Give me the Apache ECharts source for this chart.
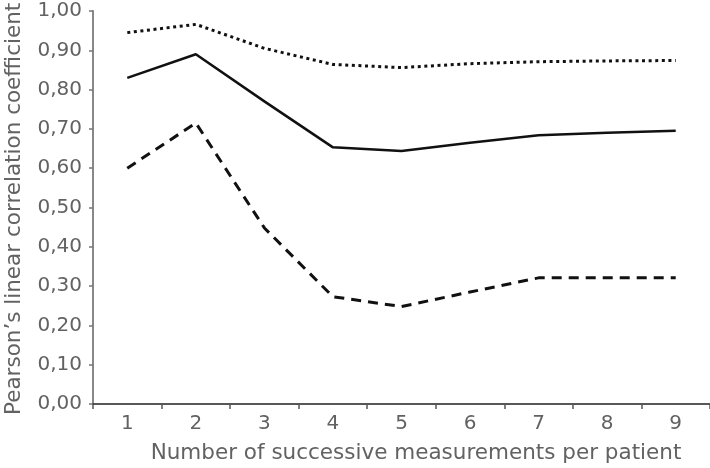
<!DOCTYPE html>
<html>
<head>
<meta charset="utf-8">
<script src="https://cdn.jsdelivr.net/npm/echarts@6/dist/echarts.min.js"></script>
<style>
html,body{margin:0;padding:0;background:#fff;}
#chart{width:710px;height:468px;}
</style>
</head>
<body>
<div id="chart"></div>
<script>
var categories = ['1','2','3','4','5','6','7','8','9'];
var solidValues  = [0.83, 0.89, 0.77, 0.653, 0.644, 0.665, 0.684, 0.69, 0.695];
var dottedValues = [0.945, 0.966, 0.905, 0.864, 0.856, 0.866, 0.871, 0.873, 0.874];
var dashedValues = [0.60, 0.715, 0.448, 0.273, 0.248, 0.285, 0.321, 0.321, 0.321];
var yTicks = { min: 0, max: 1, interval: 0.1 };
var xTitle = 'Number of successive measurements per patient';
var yTitle = 'Pearson\u2019s linear correlation coefficient';

var FONT = '"DejaVu Sans", sans-serif';
var TXT = '#626262';

var chart = echarts.init(document.getElementById('chart'), null, {renderer: 'canvas'});
chart.setOption({
  animation: false,
  backgroundColor: '#ffffff',
  grid: { left: 93, right: -1, top: 11, bottom: 64, containLabel: false },
  xAxis: {
    type: 'category',
    data: categories,
    boundaryGap: true,
    axisLine: { show: true, lineStyle: { color: '#222', width: 1.5 } },
    axisTick: { show: true, length: 5, lineStyle: { color: '#555', width: 1.5 } },
    axisLabel: { color: TXT, fontFamily: FONT, fontSize: 20, margin: 10 },
    splitLine: { show: false }
  },
  yAxis: {
    type: 'value',
    min: yTicks.min, max: yTicks.max, interval: yTicks.interval,
    axisLine: { show: true, lineStyle: { color: '#888', width: 2 } },
    axisTick: { show: true, length: 4, lineStyle: { color: '#777', width: 1.5 } },
    axisLabel: {
      color: TXT, fontFamily: FONT, fontSize: 20, margin: 11,
      formatter: function (v) { return v.toFixed(2).replace('.', ','); }
    },
    splitLine: { show: false }
  },
  graphic: [
    { type: 'text', x: 416, y: 453,
      style: { text: xTitle, fill: TXT, font: '21.5px ' + FONT, textAlign: 'center', textVerticalAlign: 'middle' } },
    { type: 'text', x: 14, y: 415, rotation: Math.PI / 2,
      style: { text: yTitle, fill: TXT, font: '21.5px ' + FONT, textAlign: 'left', textVerticalAlign: 'middle' } }
  ],
  series: [
    { type: 'line', data: dottedValues, symbol: 'none', silent: true,
      lineStyle: { color: '#111', width: 3, type: [3, 3.6], cap: 'butt' } },
    { type: 'line', data: solidValues, symbol: 'none', silent: true,
      lineStyle: { color: '#111', width: 2.5, type: 'solid' } },
    { type: 'line', data: dashedValues, symbol: 'none', silent: true,
      lineStyle: { color: '#111', width: 3, type: [10, 7], cap: 'butt' } }
  ]
});
</script>
</body>
</html>
